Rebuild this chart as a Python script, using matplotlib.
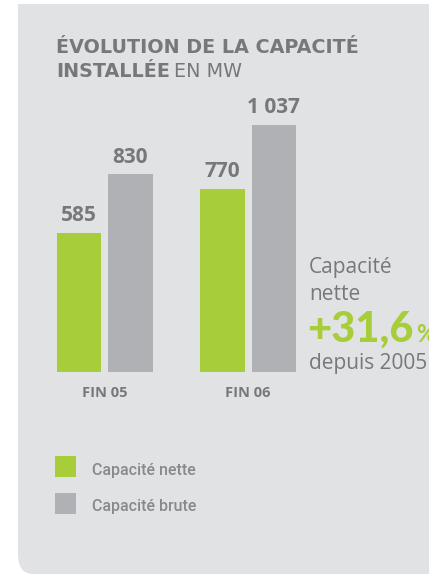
import matplotlib
matplotlib.use("Agg")
import matplotlib.pyplot as plt
import matplotlib.patches as patches
import numpy as np

# Data
CATEGORIES = ["FIN 05", "FIN 06"]
NETTE = [585, 770]
BRUTE = [830, 1037]
VALUE_LABELS_NETTE = ["585", "770"]
VALUE_LABELS_BRUTE = ["830", "1 037"]
SERIES_NAMES = ["Capacité nette", "Capacité brute"]

# Style
W, H = 429, 575
GREEN = "#a7cd3a"
GREY_BAR = "#b0b1b4"
PANEL = "#e1e2e4"
TEXT = "#77787b"
LEGEND_TEXT = "#88898b"
FONT = "Open Sans"

plt.rcParams["font.family"] = [FONT, "DejaVu Sans"]

fig = plt.figure(figsize=(W / 100, H / 100), dpi=100)
fig.patch.set_facecolor("white")


def fx(px):
    return px / W


def fy(py):
    return 1 - py / H


# background panel: square top-left, rounded bottom-left
panel_round = patches.FancyBboxPatch(
    (fx(18), fy(574)), fx(500), fy(200) - fy(574),
    boxstyle="round,pad=0,rounding_size=0.035",
    transform=fig.transFigure, facecolor=PANEL, edgecolor="none", zorder=-2)
fig.patches.append(panel_round)
fig.patches.append(patches.Rectangle(
    (fx(18), fy(300)), fx(500), fy(4) - fy(300),
    transform=fig.transFigure, facecolor=PANEL, edgecolor="none", zorder=-2))

# title
title_font = ["DejaVu Sans"]
fig.text(fx(56), fy(53), "ÉVOLUTION DE LA CAPACITÉ", fontsize=13.8,
         fontweight="bold", color=TEXT, va="baseline", family=title_font)
t2 = fig.text(fx(56), fy(77), "INSTALLÉE", fontsize=13.8,
              fontweight="bold", color=TEXT, va="baseline", family=title_font)
fig.canvas.draw()
bb = t2.get_window_extent()
fig.text(bb.x1 / W + fx(4), fy(77), "EN MW", fontsize=13.8,
         color=TEXT, va="baseline", family=title_font)

# bars
ax = fig.add_axes([fx(56), fy(372), fx(297) - fx(56), fy(372 - 285.6) - fy(372)])
ax.set_facecolor("none")
x = np.arange(len(CATEGORIES))
bw = 0.31
off = 0.178
b1 = ax.bar(x - off, NETTE, bw, color=GREEN, zorder=2)
b2 = ax.bar(x + off, BRUTE, bw, color=GREY_BAR, zorder=2)
for bars, labels in ((b1, VALUE_LABELS_NETTE), (b2, VALUE_LABELS_BRUTE)):
    for rect, lab in zip(bars, labels):
        ax.annotate(lab, (rect.get_x() + rect.get_width() / 2, rect.get_height()),
                    xytext=(0, 5), textcoords="offset points", ha="center",
                    va="bottom", fontsize=15, fontweight="bold", color=TEXT,
                    annotation_clip=False)
ax.set_xlim(-0.34, 1.34)
ax.set_ylim(0, 1200)
ax.set_xticks(x)
ax.set_xticklabels(CATEGORIES, fontsize=10.5, fontweight="bold", color=TEXT)
ax.tick_params(axis="x", length=0, pad=10)
ax.set_yticks([])
for s in ax.spines.values():
    s.set_visible(False)

# side annotation
fig.text(fx(309), fy(273), "Capacité", fontsize=15, color=TEXT, va="baseline")
fig.text(fx(309), fy(300), "nette", fontsize=15, color=TEXT, va="baseline")
big = fig.text(fx(307), fy(342), "+31,6", fontsize=30, fontweight="black",
               color=GREEN, va="baseline", family=["Lato", "DejaVu Sans"])
fig.canvas.draw()
bb = big.get_window_extent()
fig.text(bb.x1 / W + fx(3), fy(342), "%", fontsize=17, fontweight="bold",
         color=GREEN, va="baseline", family=["Lato", "DejaVu Sans"])
fig.text(fx(309), fy(369), "depuis 2005", fontsize=15, color=TEXT, va="baseline")

# legend
for i, (name, col) in enumerate(zip(SERIES_NAMES, [GREEN, GREY_BAR])):
    top = 456 + i * 37
    fig.patches.append(patches.Rectangle(
        (fx(55), fy(top + 21)), fx(21), fy(top) - fy(top + 21),
        transform=fig.transFigure, facecolor=col, edgecolor="none", zorder=1))
    fig.text(fx(92), fy(top + 14), name, fontsize=11.5, fontweight="medium",
             color=LEGEND_TEXT, va="center", family=["Roboto", "DejaVu Sans"])

fig.savefig("out.png", dpi=100, facecolor="white")
